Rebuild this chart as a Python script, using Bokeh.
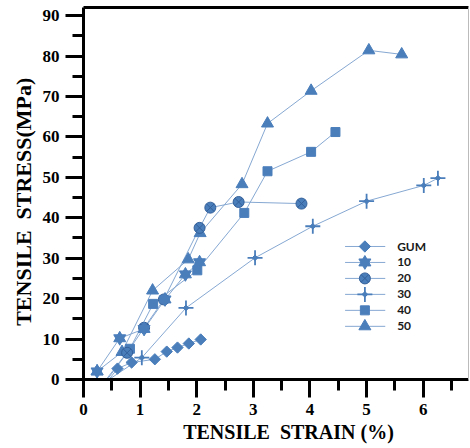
import numpy as np
from bokeh.plotting import figure
from bokeh.models import Range1d, LinearAxis, FixedTicker, SingleIntervalTicker
from bokeh.core.properties import value
from bokeh.embed import file_html
from bokeh.resources import INLINE

# ---- data ----
series_names = ["GUM", "10", "20", "30", "40", "50"]

gum_x = [0.45, 0.60, 0.85, 1.26, 1.47, 1.66, 1.86, 2.07]
gum_y = [0.0, 2.7, 4.2, 5.0, 6.9, 7.9, 8.9, 9.9]

s10_x = [0.24, 0.64, 1.07, 1.44, 1.80, 2.05]
s10_y = [2.0, 10.2, 12.5, 19.8, 26.0, 29.0]

s20_x = [0.42, 0.77, 1.07, 1.42, 2.05, 2.24, 2.74, 3.85]
s20_y = [0.0, 6.6, 12.8, 19.8, 37.5, 42.5, 43.9, 43.5]

s30_x = [0.45, 1.03, 1.81, 3.03, 4.05, 5.00, 6.01, 6.26]
s30_y = [0.0, 5.4, 17.7, 30.1, 37.9, 44.1, 48.0, 49.8]

s40_x = [0.40, 0.82, 1.23, 2.01, 2.84, 3.25, 4.02, 4.45]
s40_y = [0.0, 7.6, 18.7, 27.0, 41.2, 51.5, 56.3, 61.2]

s50_x = [0.24, 0.68, 1.22, 1.85, 2.06, 2.80, 3.25, 4.02, 5.04, 5.62]
s50_y = [2.0, 6.8, 22.0, 29.7, 36.2, 48.3, 63.3, 71.4, 81.4, 80.4]

x_ticks = [0, 1, 2, 3, 4, 5, 6]
y_ticks = [0, 10, 20, 30, 40, 50, 60, 70, 80, 90]

# ---- style ----
MK = "#4A7EBB"
MK_DARK = "#34609A"
LN = "#86A8D2"
SERIF = "Liberation Serif"
NB = "\u00a0"

p = figure(width=470, height=448, x_range=Range1d(0, 6.8), y_range=Range1d(0, 92),
           output_backend="svg", toolbar_location=None,
           min_border_left=83, min_border_right=2, min_border_top=7, min_border_bottom=69)
p.grid.visible = False
p.outline_line_color = None
p.background_fill_color = "white"
p.border_fill_color = "white"


def draw_marker(kind, xs, ys):
    if kind == "GUM":
        p.scatter(xs, ys, marker="square", angle=np.pi / 4, size=8,
                  fill_color=MK, line_color=MK)
    elif kind == "10":
        p.scatter(xs, ys, marker="triangle", size=12, fill_color=MK, line_color=MK)
        p.scatter(xs, ys, marker="inverted_triangle", size=12, fill_color=MK, line_color=MK)
    elif kind == "20":
        p.scatter(xs, ys, marker="circle_x", size=11, fill_color=MK,
                  line_color=MK_DARK, line_width=1)
    elif kind == "30":
        p.scatter(xs, ys, marker="cross", size=15, line_color=MK, line_width=1.8)
        p.scatter(xs, ys, marker="square", angle=np.pi / 4, size=4,
                  fill_color=MK, line_color=MK)
    elif kind == "40":
        p.scatter(xs, ys, marker="square", size=9, fill_color=MK, line_color=MK)
    elif kind == "50":
        p.scatter(xs, ys, marker="triangle", size=12, fill_color=MK, line_color=MK)


data = {
    "GUM": (gum_x, gum_y),
    "10": (s10_x, s10_y),
    "20": (s20_x, s20_y),
    "30": (s30_x, s30_y),
    "40": (s40_x, s40_y),
    "50": (s50_x, s50_y),
}

for name in series_names:
    xs, ys = data[name]
    p.line(xs, ys, line_color=LN, line_width=1)

draw_order = ["50", "40", "30", "20", "10", "GUM"]
for name in draw_order:
    xs, ys = data[name]
    mx = [x for x, y in zip(xs, ys) if y > 0]
    my = [y for y in ys if y > 0]
    draw_marker(name, mx, my)

# ---- manual legend ----
leg_x0, leg_x1, leg_xm, leg_tx = 4.62, 5.33, 4.97, 5.54
leg_top, leg_step = 32.9, 3.95
for i, name in enumerate(series_names):
    yy = leg_top - i * leg_step
    p.line([leg_x0, leg_x1], [yy, yy], line_color=LN, line_width=1)
    draw_marker(name, [leg_xm], [yy])
    p.text([leg_tx], [yy], text=[name], text_font=value("Lato"), text_font_style="bold",
           text_font_size="12px", text_baseline="middle", text_align="left",
           text_color="#1a1a1a")

# ---- axes ----
for ax in (p.xaxis[0], p.yaxis[0]):
    ax.axis_line_width = 3
    ax.axis_line_color = "black"
    ax.major_tick_line_width = 3
    ax.minor_tick_line_width = 3
    ax.major_tick_line_color = "black"
    ax.minor_tick_line_color = "black"
    ax.major_tick_in = 0
    ax.minor_tick_in = 0
    ax.major_tick_out = 18
    ax.minor_tick_out = 11
    ax.major_label_text_font = SERIF
    ax.major_label_text_font_style = "bold"
    ax.major_label_text_font_size = "17px"
    ax.major_label_text_color = "black"
    ax.axis_label_text_font = SERIF
    ax.axis_label_text_font_style = "bold"
    ax.axis_label_text_color = "black"

p.xaxis[0].ticker = SingleIntervalTicker(interval=1, num_minor_ticks=2)
p.yaxis[0].ticker = SingleIntervalTicker(interval=10, num_minor_ticks=2)
p.xaxis[0].major_label_standoff = 6
p.yaxis[0].major_label_standoff = 6
p.xaxis[0].axis_label = NB * 5 + "TENSILE" + NB * 2 + "STRAIN (%)"
p.xaxis[0].axis_label_text_font_size = "20px"
p.xaxis[0].axis_label_standoff = 3
p.yaxis[0].axis_label = "TENSILE" + NB * 2 + "STRESS(MPa)" + NB * 3
p.yaxis[0].axis_label_text_font_size = "22px"
p.yaxis[0].axis_label_standoff = 4

top_ax = LinearAxis(ticker=FixedTicker(ticks=[]), axis_line_width=3, axis_line_color="black",
                    major_tick_out=0, minor_tick_out=0, major_label_text_font_size="0px",
                    major_label_standoff=0)
p.add_layout(top_ax, "above")
right_ax = LinearAxis(ticker=FixedTicker(ticks=[]), axis_line_width=1, axis_line_color="#bbbbbb",
                      major_tick_out=0, minor_tick_out=0, major_label_text_font_size="0px",
                      major_label_standoff=0)
p.add_layout(right_ax, "right")

open("out.html", "w").write(file_html(p, INLINE))
